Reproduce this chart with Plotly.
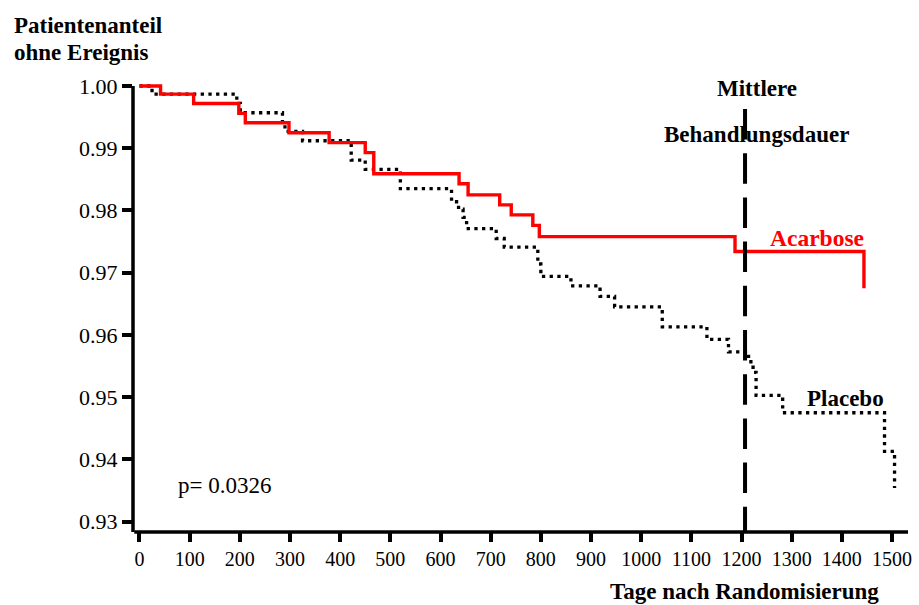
import plotly.graph_objects as go

# ---- data ----
acarbose_days = [0, 42, 108, 198, 211, 298, 378, 450, 467, 637, 655, 718, 741, 784, 797, 1187, 1444]
acarbose_surv = [1.0, 0.9987, 0.9972, 0.9956, 0.9941, 0.9925, 0.9909, 0.9893, 0.9859, 0.9843,
                 0.9825, 0.9809, 0.9793, 0.9776, 0.9758, 0.9734, 0.9675]

placebo_days = [0, 25, 194, 201, 285, 290, 325, 422, 450, 520, 622, 636, 645, 652, 711, 727,
                794, 800, 860, 918, 947, 1042, 1131, 1174, 1214, 1223, 1229, 1282, 1485, 1505]
placebo_surv = [1.0, 0.9987, 0.9972, 0.9957, 0.9942, 0.9927, 0.9912, 0.9881, 0.9866, 0.9835,
                0.9814, 0.9802, 0.9789, 0.9771, 0.9755, 0.9741, 0.9714, 0.9694, 0.9679, 0.9662,
                0.9645, 0.9613, 0.9593, 0.9573, 0.9557, 0.9540, 0.9503, 0.9475, 0.9413, 0.9354]

x_ticks = list(range(0, 1501, 100))
y_ticks = [0.93, 0.94, 0.95, 0.96, 0.97, 0.98, 0.99, 1.00]
y_ticktext = ["0.93", "0.94", "0.95", "0.96", "0.97", "0.98", "0.99", "1.00"]
median_duration = 1207

FONT = "Liberation Serif, Times New Roman, serif"

X0, X1 = -12.9, 1531.8
Y0, Y1 = 0.928345, 1.000964

fig = go.Figure()
fig.add_trace(go.Scatter(x=placebo_days, y=placebo_surv, mode="lines", line_shape="hv",
                         line=dict(color="black", width=3.3, dash="3.3px,4.4px"),
                         name="Placebo", showlegend=False, hoverinfo="skip"))
fig.add_trace(go.Scatter(x=acarbose_days, y=acarbose_surv, mode="lines", line_shape="hv",
                         line=dict(color="#ff0000", width=3.4),
                         name="Acarbose", showlegend=False, hoverinfo="skip"))

fig.update_layout(
    width=919, height=605,
    margin=dict(l=133, r=7, t=80, b=73),
    paper_bgcolor="white", plot_bgcolor="white",
    font=dict(family=FONT, color="black"),
    xaxis=dict(range=[X0, X1], tickvals=x_ticks, ticks="outside", ticklen=9, tickwidth=3.5,
               tickcolor="black", showgrid=False, zeroline=False, showline=False,
               tickfont=dict(family=FONT, size=20, color="black")),
    yaxis=dict(range=[Y0, Y1], tickvals=y_ticks, ticktext=y_ticktext, ticks="outside",
               ticklen=10, tickwidth=3.5, tickcolor="black", showgrid=False, zeroline=False,
               showline=False, tickfont=dict(family=FONT, size=22, color="black")),
)

# axis lines
fig.add_shape(type="line", xref="paper", yref="y", x0=0, x1=0, y0=Y0, y1=1.0,
              line=dict(color="black", width=3.5))
fig.add_shape(type="line", xref="x", yref="paper", x0=X0 + 2.6, x1=X1, y0=0, y1=0,
              line=dict(color="black", width=3.5))
# median treatment duration
fig.add_shape(type="line", xref="x", yref="y", x0=median_duration, x1=median_duration,
              y0=0.996305, y1=Y0, line=dict(color="black", width=4, dash="30.5px,13.7px"))

def px_x(px):
    return (px - 133) / 779

def px_y(py):
    return (532 - py) / 452

def ann(text, x, y, size=23, color="black", xanchor="center"):
    fig.add_annotation(text=text, xref="paper", yref="paper", x=px_x(x), y=px_y(y),
                       xanchor=xanchor, yanchor="middle", showarrow=False,
                       font=dict(family=FONT, size=size, color=color))

ann("<b>Patientenanteil</b>", 11, 25, xanchor="left")
ann("<b>ohne Ereignis</b>", 11, 53, xanchor="left")
ann("<b>Mittlere</b>", 760, 89)
ann("<b>Behandlungsdauer</b>", 760, 134)
ann("<b>Acarbose</b>", 821, 238, size=23.5, color="#ff0000")
ann("<b>Placebo</b>", 849, 399)
ann("p= 0.0326", 225, 485)
ann("<b>Tage nach Randomisierung</b>", 748, 591)

fig.write_html("out.html")
